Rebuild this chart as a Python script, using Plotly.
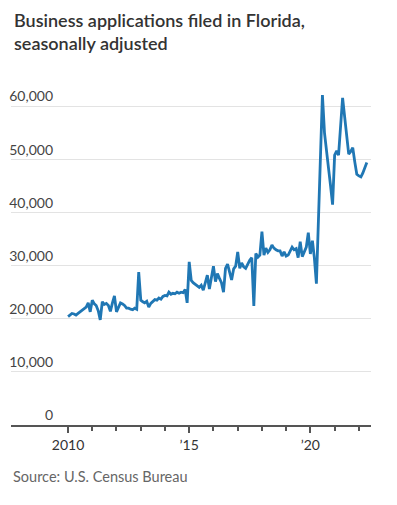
import pandas as pd
import plotly.graph_objects as go

# Monthly business applications, Florida, seasonally adjusted (Jan 2010 - May 2022)
values_2010 = [20400, 20700, 21000, 20900, 20700, 21000, 21300, 21600, 21900, 22200, 23000, 21300]
values_2011 = [23500, 22800, 22500, 21500, 19800, 23200, 22700, 22900, 22500, 21400, 23000, 24300]
values_2012 = [21300, 22300, 23000, 22800, 22500, 22000, 22000, 21800, 21700, 22000, 21800, 28800]
values_2013 = [23500, 23200, 23000, 23300, 22200, 22900, 23200, 23600, 23500, 23900, 23700, 24200]
values_2014 = [24400, 24300, 25000, 24600, 24800, 24700, 25000, 24800, 25000, 24900, 25500, 23000]
values_2015 = [30700, 27200, 26800, 26500, 26200, 25900, 26300, 25400, 26800, 28200, 25600, 27400]
values_2016 = [29900, 27000, 28500, 27600, 26800, 25000, 29500, 30300, 28800, 27300, 29400, 29900]
values_2017 = [32600, 29500, 30500, 29800, 29500, 30300, 31000, 31500, 22400, 32300, 31600, 32000]
values_2018 = [36400, 32000, 33300, 32500, 33000, 33900, 33300, 33000, 32800, 32800, 31800, 32600]
values_2019 = [31800, 32000, 32800, 33500, 33000, 33200, 31500, 34500, 31700, 32600, 33500, 36200]
values_2020 = [32200, 34700, 31500, 26600, 39000, 51000, 62100, 55000, 51000, 48300, 45000, 41500]
values_2021 = [50800, 51600, 50800, 56000, 61600, 58000, 54500, 51000, 51500, 52200, 49500, 47200]
values_2022 = [46900, 46700, 47400, 48600, 49400]

applications = (values_2010 + values_2011 + values_2012 + values_2013 + values_2014
                + values_2015 + values_2016 + values_2017 + values_2018 + values_2019
                + values_2020 + values_2021 + values_2022)
months = pd.date_range("2010-01-01", periods=len(applications), freq="MS")

y_ticks = [0, 10000, 20000, 30000, 40000, 50000, 60000]
x_major_ticks = ["2010-01-01", "2015-01-01", "2020-01-01"]
x_major_labels = ["2010", "\u201915", "\u201920"]
x_minor_ticks = [f"{y}-01-01" for y in [2011, 2012, 2013, 2014, 2016, 2017, 2018, 2019, 2021, 2022]]

title_text = "Business applications filed in Florida,<br>seasonally adjusted"
source_text = "Source: U.S. Census Bureau"

LINE = "#2077b4"
FONT = "Lato, Roboto, sans-serif"

fig = go.Figure()
fig.add_trace(go.Scatter(
    x=months, y=applications, mode="lines",
    line=dict(color=LINE, width=2.8),
    hoverinfo="skip", showlegend=False,
))

fig.update_layout(
    width=397, height=505,
    margin=dict(l=11, r=26, t=90, b=80, autoexpand=False),
    paper_bgcolor="white", plot_bgcolor="white",
    font=dict(family=FONT, color="#333"),
    xaxis=dict(
        range=["2007-08-25", "2022-07-03"],
        automargin=False,
        tickvals=x_major_ticks, ticktext=x_major_labels,
        ticks="outside", ticklen=6, tickwidth=1.5, tickcolor="#555",
        tickfont=dict(size=14, color="#333"),
        showline=True, linecolor="#555", linewidth=2,
        showgrid=False, zeroline=False,
        minor=dict(tickvals=x_minor_ticks, ticks="outside", ticklen=4,
                   tickwidth=1.5, tickcolor="#555", showgrid=False),
    ),
    yaxis=dict(
        range=[0, 63070],
        automargin=False,
        tickvals=y_ticks, tickformat=",",
        ticks="", showline=False, zeroline=False,
        showgrid=True, gridcolor="#e3e3e3", gridwidth=1,
        ticklabelposition="outside top", ticklabelstandoff=-43,
        tickfont=dict(size=14, color="#444"),
    ),
    annotations=[
        dict(
            text=title_text, xref="paper", yref="paper",
            x=1 / 360, y=1 + (90 - 7) / 335, xanchor="left", yanchor="top",
            align="left", showarrow=False,
            font=dict(family=FONT, size=18, color="#333", weight=600),
        ),
        dict(
            text=source_text, xref="paper", yref="paper",
            x=0, y=-0.155, xanchor="left", yanchor="middle", showarrow=False,
            font=dict(family=FONT, size=14.5, color="#666"),
        ),
    ],
)

fig.write_html("out.html", config={"displayModeBar": False},
               post_script="document.body.style.margin='0px';")
